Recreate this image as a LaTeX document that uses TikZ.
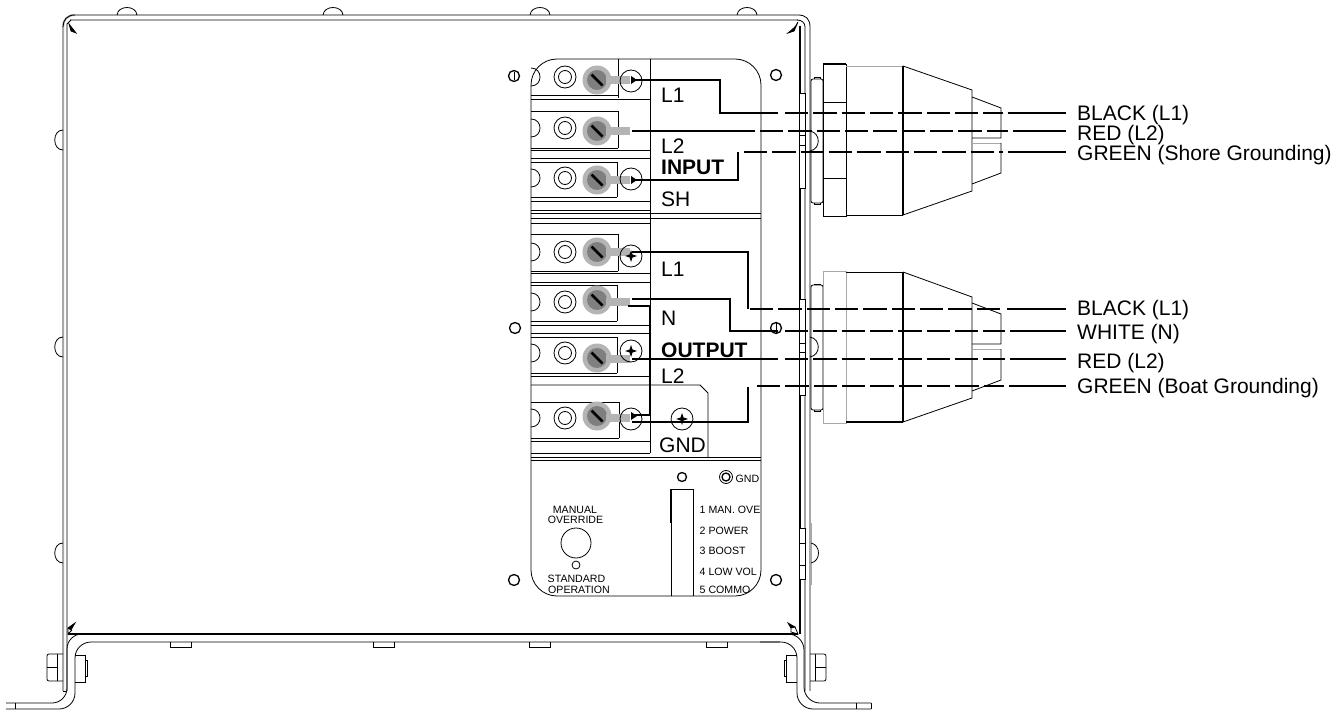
\documentclass[tikz,border=0pt]{standalone}
\usepackage{fontspec}
\setmainfont{Liberation Sans}
\usepackage{xcolor}
\usetikzlibrary{calc}
\definecolor{ring}{HTML}{B4B4B4}
\definecolor{core}{HTML}{7F7F7F}
\definecolor{edge}{HTML}{A8A8A8}
\tikzset{
  plate/.style={line width=0.8pt},
  soft/.style={line width=0.9pt, color=edge},
  grayline/.style={line width=2pt, color=edge},
  wire/.style={line width=1.9pt},
  wiredash/.style={line width=1.9pt, dash pattern=on 23.3pt off 5.03pt},
  lbl/.style={font=\fontsize{21}{21}\selectfont, inner sep=0pt, anchor=base west},
  lblbold/.style={font=\fontsize{21}{21}\selectfont\bfseries, inner sep=0pt, anchor=base west},
  tiny/.style={font=\fontsize{10.6}{10.6}\selectfont, inner sep=0pt, anchor=base west},
  tinymid/.style={font=\fontsize{10.6}{10.6}\selectfont, inner sep=0pt, anchor=base},
}
\begin{document}
\begin{tikzpicture}[x=1pt,y=-1pt]
\useasboundingbox (0,0) rectangle (1344,711);

% outer box, top and sides
\draw[grayline] (70,20) -- (798,20);
\draw[grayline] (63,691) -- (63,27) .. controls (63,20) and (67,15) .. (75,15);
\draw[plate] (63,27) .. controls (63,20) and (67,15) .. (75,15) -- (798,15) .. controls (806,15) and (810,19) .. (810,27);
\draw[plate] (67,691) -- (67,24) -- (71,20);
\draw[plate] (63,691) -- (67,691);
\draw[grayline] (810,27) -- (810,691);
\draw[line width=3pt, color=edge] (810,523) -- (810,585);
\draw[plate] (805,691) -- (805,27) .. controls (805,23) and (802,20) .. (797,20);
\draw[line width=2.2pt] (800,26) -- (800,634);

% tabs in the right wall
\foreach \ta/\tb/\tc/\td in {93/188/135/145, 299/395/343/352, 528/579/543/565} {
  \filldraw[fill=white, line width=0.5pt] (799,\ta) rectangle (805,\tb);
  \draw[line width=0.5pt] (799,\tc) -- (805,\tc);
  \draw[line width=0.5pt] (799,\td) -- (805,\td);
}

% bumps along the top and the left side
\foreach \bx in {117, 323, 530, 737} {
  \draw[plate] (\bx,15) .. controls (\bx+1,5) and (\bx+19,5) .. (\bx+20,15);
}
\foreach \by in {130, 337, 543} {
  \draw[plate] (63,\by) .. controls (52,\by) and (52,\by+20) .. (63,\by+20);
}
\draw[plate] (811,543) .. controls (821,545) and (821,561) .. (811,563);

% corner marks
\filldraw[plate] (69,24) -- (76,33) -- (71,31) -- cycle;
\filldraw[plate] (788,33) -- (795,27) -- (794,31) -- cycle;
\draw[plate] (795,27) -- (798,22) -- (794,31);
\filldraw[plate] (75,623) -- (68,628) -- (71,630) -- cycle;
\draw[plate] (68,628) -- (68,634) -- (72,630);
\filldraw[plate] (788,623) -- (795,627) -- (791,628) -- cycle;
\draw[plate] (795,627) -- (798,634) -- (791,632) -- (791,628);

% bottom of the box and the brackets
\draw[line width=1.5pt] (68,634) -- (798,634);
\draw[plate, rounded corners=15pt] (85,634) -- (67,634) -- (67,703) -- (6,703);
\draw[plate, rounded corners=16pt] (780,642) -- (75,642) -- (75,709) -- (6,709);
\draw[plate] (15,703) -- (15,709);
\draw[plate, rounded corners=16pt] (780,634) -- (804,634) -- (804,703) -- (871,703);
\draw[plate, rounded corners=16pt] (760,642) -- (797,642) -- (797,709) -- (871,709);
\draw[plate] (871,703) -- (871,709);
\draw[plate] (856,703) -- (856,709);
\foreach \tx in {170, 373, 529, 706} {
  \draw[plate] (\tx,642) -- (\tx,647) -- (\tx+21,647) -- (\tx+21,642);
}

% bolts through the brackets
\draw[plate, rounded corners=2pt] (63,654) -- (47,654) -- (47,681) -- (63,681);
\draw[plate] (57,654) -- (57,681);
\draw[plate] (47,667) -- (57,667);
\draw[plate] (75,655) -- (85,655) -- (85,682) -- (75,682);
\draw[plate] (85,660) -- (87,660) -- (87,676) -- (85,676);
\draw[plate, rounded corners=2pt] (810,654) -- (826,654) -- (826,681) -- (810,681);
\draw[plate] (815,654) -- (815,681);
\draw[plate] (815,667) -- (826,667);
\draw[plate] (797,655) -- (786,655) -- (786,682) -- (797,682);
\draw[plate] (786,660) -- (784,660) -- (784,676) -- (786,676);

% switch panel
\draw[plate, rounded corners=26pt] (531,59) rectangle (761,596);
\draw[plate] (650,59) -- (650,453);
\foreach \ly in {213, 218, 457, 460} {
  \draw[plate] (531,\ly) -- (761,\ly);
}
\foreach \ly/\lx in {95/618, 99/650, 111/618, 148/618, 150/650, 158/650, 162/617, 197/617, 201/650, 210/650,
    223/650, 234/618, 271/618, 273/650, 282/650, 285/617, 321/617, 325/650, 333/650, 337/617, 373/617, 376/650,
    402/619, 438/619, 441/650, 453/650} {
  \draw[plate] (531,\ly) -- (\lx,\ly);
}
\foreach \va/\vb/\vx in {59/98/618, 111/148/618, 162/197/617, 234/271/618, 285/321/617, 337/373/617, 402/438/619} {
  \draw[plate] (\vx,\va) -- (\vx,\vb);
}
\draw[plate] (531,385) -- (700,385) -- (708,393) -- (708,457);

% terminals, screw / washer / tab heights
\foreach \sy/\wy/\ty in {80/77/80, 131/128/131, 180/178/180, 252/252/252, 300/302/302, 358/353/359, 416/418/418} {
  \draw[plate] (531,\wy-9) .. controls (543,\wy-9) and (543,\wy+9) .. (531,\wy+9);
  \draw[plate] (565,\wy) circle (11);
  \draw[plate] (565,\wy) circle (6.5);
  \fill[ring] (597,\sy) circle (14.5);
  \fill[core] (597,\sy) circle (10);
  \fill[ring] (606,\ty-4) rectangle (630,\ty+4);
  \draw[line width=2.6pt] (591.5,\sy-5.5) -- (602.5,\sy+5.5);
}

% screw heads beside the terminals
\foreach \hx/\hy in {631/81, 631/179, 631/256, 631/351, 631/419, 682/419} {
  \draw[plate] (\hx,\hy) circle (11);
}
\foreach \hx/\hy in {631/256, 631/351, 682/419} {
  \fill (\hx-6,\hy) -- (\hx-1.5,\hy-1.5) -- (\hx,\hy-6) -- (\hx+1.5,\hy-1.5) -- (\hx+6,\hy) -- (\hx+1.5,\hy+1.5) -- (\hx,\hy+6) -- (\hx-1.5,\hy+1.5) -- cycle;
}
\foreach \hy in {80, 180, 416} {
  \fill (631,\hy-4) -- (637,\hy) -- (631,\hy+4) -- cycle;
}

% mounting holes
\foreach \mx/\my in {514/76, 776/75, 515/328, 776/328, 514/580, 776/580} {
  \draw[line width=1.3pt] (\mx,\my) circle (5.5);
}
\draw[plate] (514,72) -- (514,80);
\draw[plate] (776,323) -- (776,333);
\draw[line width=1.3pt] (682,477) circle (4.5);
\draw[plate] (726,477) circle (6.5);
\draw[line width=1.3pt] (726,477) circle (4);

% selector strip and override knob
\draw[plate] (671,596) -- (671,489) -- (693,489) -- (693,596);
\draw[line width=1.8pt] (671,489) -- (671,523);
\draw[plate] (576,543) circle (15);
\draw[plate] (576,565) circle (4);

% input connector
\draw[plate, rounded corners=2pt] (811,79) rectangle (823,203);
\draw[plate] (814,79) -- (814,77) -- (820,77) -- (820,79);
\draw[plate] (814,203) -- (814,204) -- (820,204) -- (820,203);
\draw[plate] (810,131) .. controls (821,133) and (821,149) .. (810,151);
\draw[plate] (823,64) rectangle (846,216);
\draw[line width=1.3pt] (823,64) -- (846,64);
\draw[plate] (823,102) -- (846,102);
\draw[plate] (823,178) -- (846,178);
\draw[soft] (846,66) -- (903,66);
\draw[plate] (846,215) -- (903,215);
\draw[line width=1.1pt] (903,66) -- (903,215);
\draw[plate] (903,66) -- (972,90) -- (972,191) -- (903,215);
\draw[plate] (972,97) -- (1001,108) -- (1001,138) -- (972,138);
\draw[soft] (972,143) -- (1001,143);
\draw[plate] (1001,143) -- (1001,173) -- (972,184);

% output connector
\draw[plate, rounded corners=2pt] (811,285) rectangle (823,410);
\draw[plate] (814,285) -- (814,284) -- (820,284) -- (820,285);
\draw[plate] (814,410) -- (814,411) -- (820,411) -- (820,410);
\draw[plate] (810,337) .. controls (821,339) and (821,355) .. (810,357);
\draw[soft] (823,271) rectangle (846,423);
\draw[plate] (846,272) -- (903,272);
\draw[line width=1.3pt] (846,422) -- (903,422);
\draw[line width=1.1pt] (903,272) -- (903,422);
\draw[plate] (903,272) -- (972,297) -- (972,398) -- (903,422);
\draw[plate] (972,303) -- (1001,314) -- (1001,344) -- (972,344);
\draw[soft] (972,349) -- (1001,349);
\draw[plate] (1001,349) -- (1001,380) -- (972,391);

% wire coordinates
\coordinate (inA) at (632,80);
\coordinate (inAb) at (720,80);
\coordinate (inAc) at (720,113);
\coordinate (inAd) at (778,113);
\coordinate (inAe) at (785,113);
\coordinate (inAf) at (1003,113);
\coordinate (inAg) at (1008,113);
\coordinate (inAh) at (1066,113);
\coordinate (inB) at (632,131);
\coordinate (inBb) at (755,131);
\coordinate (inBe) at (760,131);
\coordinate (inBf) at (1008,131);
\coordinate (inBg) at (1013,131);
\coordinate (inBh) at (1066,131);
\coordinate (inC) at (632,180);
\coordinate (inCb) at (738,180);
\coordinate (inCc) at (738,152);
\coordinate (inCe) at (744,152);
\coordinate (inCf) at (1003,152);
\coordinate (inCg) at (1008,152);
\coordinate (inCh) at (1066,152);
\coordinate (outA) at (632,252);
\coordinate (outAb) at (748,252);
\coordinate (outAc) at (748,309);
\coordinate (outAe) at (750,309);
\coordinate (outAf) at (1002,309);
\coordinate (outAg) at (1007,309);
\coordinate (outAh) at (1066,309);
\coordinate (outB) at (632,299);
\coordinate (outBb) at (730,299);
\coordinate (outBc) at (730,331);
\coordinate (outBd) at (778,331);
\coordinate (outBe) at (785,331);
\coordinate (outBf) at (1005,331);
\coordinate (outBg) at (1010,331);
\coordinate (outBh) at (1066,331);
\coordinate (outC) at (632,359);
\coordinate (outCd) at (778,359);
\coordinate (outCe) at (785,359);
\coordinate (outCf) at (1005,359);
\coordinate (outCg) at (1010,359);
\coordinate (outCh) at (1066,359);
\coordinate (outD) at (632,422);
\coordinate (outDb) at (748,422);
\coordinate (outDc) at (748,387);
\coordinate (outDe) at (757,386);
\coordinate (outDf) at (1004,386);
\coordinate (outDg) at (1009,386);
\coordinate (outDh) at (1066,386);
\coordinate (jumpA) at (628,306);
\coordinate (jumpB) at (650,306);
\coordinate (jumpC) at (650,415);
\coordinate (jumpD) at (632,415);

% wires
\draw[wire] (inA) -- (inAb) -- (inAc) -- (inAd);
\draw[wiredash] (inAe) -- (inAf);
\draw[wire] (inAg) -- (inAh);
\draw[wire] (inB) -- (inBb);
\draw[wiredash] (inBe) -- (inBf);
\draw[wire] (inBg) -- (inBh);
\draw[wire] (inC) -- (inCb) -- (inCc);
\draw[wiredash] (inCe) -- (inCf);
\draw[wire] (inCg) -- (inCh);
\draw[wire] (outA) -- (outAb) -- (outAc);
\draw[wiredash] (outAe) -- (outAf);
\draw[wire] (outAg) -- (outAh);
\draw[wire] (outB) -- (outBb) -- (outBc) -- (outBd);
\draw[wiredash] (outBe) -- (outBf);
\draw[wire] (outBg) -- (outBh);
\draw[wire] (outC) -- (outCd);
\draw[wiredash] (outCe) -- (outCf);
\draw[wire] (outCg) -- (outCh);
\draw[wire] (outD) -- (outDb) -- (outDc);
\draw[wiredash] (outDe) -- (outDf);
\draw[wire] (outDg) -- (outDh);
\draw[wire] (jumpA) -- (jumpB) -- (jumpC) -- (jumpD);

% panel labels
\node[lbl] (inputL1) at (661,103) {L1};
\node[lbl] (inputL2) at (661,154) {L2};
\node[lblbold] (inputtitle) at (661,175) {INPUT};
\node[lbl] (inputSH) at (661,207) {SH};
\node[lbl] (outputL1) at (661,277) {L1};
\node[lbl] (outputN) at (661,326) {N};
\node[lblbold] (outputtitle) at (661,357) {OUTPUT};
\node[lbl] (outputL2) at (661,383) {L2};
\node[lbl] (outputGND) at (659,452) {GND};

% wire labels
\node[lbl] (nameinA) at (1077,120.5) {BLACK (L1)};
\node[lbl] (nameinB) at (1077,141) {RED (L2)};
\node[lbl] (nameinC) at (1077,161) {GREEN (Shore Grounding)};
\node[lbl] (nameoutA) at (1077,316) {BLACK (L1)};
\node[lbl] (nameoutB) at (1077,339) {WHITE (N)};
\node[lbl] (nameoutC) at (1077,368) {RED (L2)};
\node[lbl] (nameoutD) at (1077,393) {GREEN (Boat Grounding)};

% small print on the panel
\node[tiny] (gndmark) at (735.5,482) {GND};
\node[tiny] (lamp1) at (699.5,513) {1 MAN. OVE};
\node[tiny] (lamp2) at (699.5,534) {2 POWER};
\node[tiny] (lamp3) at (699.5,554) {3 BOOST};
\node[tiny] (lamp4) at (699.5,575) {4 LOW VOL};
\node[tiny] (lamp5) at (699.5,593) {5 COMMO};
\node[tinymid] (manual) at (575,513) {MANUAL};
\node[tinymid] (override) at (575.5,523) {OVERRIDE};
\node[tinymid] (standard) at (576.5,582) {STANDARD};
\node[tinymid] (operation) at (579,593) {OPERATION};
\end{tikzpicture}
\end{document}
